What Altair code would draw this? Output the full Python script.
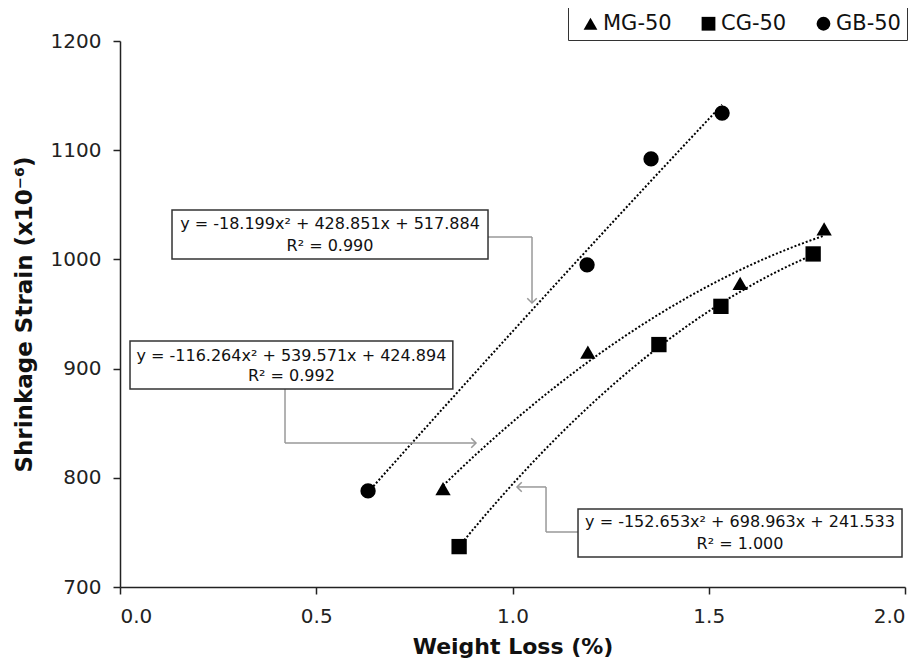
import altair as alt
import pandas as pd

# ---- data ----
mg_x = [0.823, 1.192, 1.580, 1.794]
mg_y = [790, 915, 978, 1028]
cg_x = [0.864, 1.373, 1.531, 1.766]
cg_y = [737, 922, 957, 1005]
gb_x = [0.632, 1.190, 1.353, 1.534]
gb_y = [788, 995, 1092, 1134]
series_names = ["MG-50", "CG-50", "GB-50"]
shapes = ["triangle-up", "square", "circle"]

eq_lines = [
    ["y = -18.199x² + 428.851x + 517.884", "R² = 0.990"],
    ["y = -116.264x² + 539.571x + 424.894", "R² = 0.992"],
    ["y = -152.653x² + 698.963x + 241.533", "R² = 1.000"],
]
# annotation boxes (data units): x1, x2, y_top, y_bottom, text centre x, line ys
box_x1 = [0.1325, 0.0255, 1.1669]
box_x2 = [0.9376, 0.8480, 1.9924]
box_y1 = [1045.2, 925.3, 771.4]
box_y2 = [1000.4, 881.3, 727.5]
text_cx = [0.535, 0.4367, 1.5796]
text_y1 = [1032.4, 911.5, 759.5]
text_y2 = [1012.3, 893.2, 739.4]
# connector segments (data units)
seg_x1 = [0.9376, 1.0497, 0.4204, 0.4204, 1.1669, 1.0854, 1.0854]
seg_x2 = [1.0497, 1.0497, 0.4204, 0.9070, 1.0854, 1.0854, 1.0115]
seg_y1 = [1020.5, 1020.5, 881.3, 831.9, 750.4, 750.4, 791.6]
seg_y2 = [1020.5, 960.1, 831.9, 831.9, 750.4, 791.6, 791.6]
# arrow heads
head_x = [1.0497, 0.9070, 1.0115]
head_y = [960.1, 831.9, 791.6]
head_angle = [90, 0, 180]

FONT = "DejaVu Sans"

rows = []
for name, xs, ys in zip(series_names, [mg_x, cg_x, gb_x], [mg_y, cg_y, gb_y]):
    for xv, yv in zip(xs, ys):
        rows.append({"series": name, "x": xv, "y": yv})
df = pd.DataFrame(rows)

xscale = alt.Scale(domain=[0, 2], nice=False)
yscale = alt.Scale(domain=[700, 1200], nice=False, zero=False)

x_enc = alt.X("x:Q", scale=xscale, title="Weight Loss (%)",
              axis=alt.Axis(values=[0, 0.5, 1.0, 1.5, 2.0], format=".1f"))
y_enc = alt.Y("y:Q", scale=yscale, title="Shrinkage Strain (x10⁻⁶)",
              axis=alt.Axis(values=[700, 800, 900, 1000, 1100, 1200], format="d"))

points = alt.Chart(df).mark_point(filled=True, opacity=1, color="black", size=235).encode(
    x=x_enc, y=y_enc,
    shape=alt.Shape("series:N", scale=alt.Scale(domain=series_names, range=shapes),
                    sort=series_names,
                    legend=alt.Legend(title=None, orient="none", direction="horizontal",
                                      legendX=448, legendY=-34,
                                      strokeColor="#333", fillColor="white",
                                      padding=6, labelFontSize=21, symbolSize=190,
                                      labelFont=FONT, labelColor="#111",
                                      symbolFillColor="black", symbolStrokeColor="black",
                                      columnPadding=20, symbolOffset=6, labelOffset=2)),
)

trend = alt.Chart(df).transform_regression(
    "x", "y", method="poly", order=2, groupby=["series"]
).mark_line(color="black", strokeDash=[2, 2], strokeWidth=2).encode(
    x=alt.X("x:Q", scale=xscale), y=alt.Y("y:Q", scale=yscale), detail="series:N"
)

boxes_df = pd.DataFrame({"x1": box_x1, "x2": box_x2, "y1": box_y1, "y2": box_y2})
boxes = alt.Chart(boxes_df).mark_rect(fill="white", stroke="#333", strokeWidth=1.5).encode(
    x=alt.X("x1:Q", scale=xscale), x2="x2:Q",
    y=alt.Y("y1:Q", scale=yscale), y2="y2:Q",
)

txt_rows = []
for i in range(3):
    txt_rows.append({"x": text_cx[i], "y": text_y1[i], "t": eq_lines[i][0]})
    txt_rows.append({"x": text_cx[i], "y": text_y2[i], "t": eq_lines[i][1]})
texts = alt.Chart(pd.DataFrame(txt_rows)).mark_text(
    font=FONT, fontSize=16, color="#111", align="center", baseline="middle"
).encode(x=alt.X("x:Q", scale=xscale), y=alt.Y("y:Q", scale=yscale), text="t:N")

seg_df = pd.DataFrame({"x1": seg_x1, "x2": seg_x2, "y1": seg_y1, "y2": seg_y2})
segs = alt.Chart(seg_df).mark_rule(color="#999", strokeWidth=1.5).encode(
    x=alt.X("x1:Q", scale=xscale), x2="x2:Q",
    y=alt.Y("y1:Q", scale=yscale), y2="y2:Q",
)

head_df = pd.DataFrame({"x": head_x, "y": head_y, "a": head_angle})
heads = alt.Chart(head_df).mark_point(
    shape="M -1 -1 L 0 0 L -1 1", filled=False, color="#999", strokeWidth=1.5, size=90, opacity=1
).encode(x=alt.X("x:Q", scale=xscale), y=alt.Y("y:Q", scale=yscale),
         angle=alt.Angle("a:Q", scale=None))

chart = alt.layer(trend, segs, heads, boxes, texts, points).properties(
    width=785, height=546,
    autosize=alt.AutoSizeParams(type="none"),
    padding={"left": 112, "top": 33, "right": 9, "bottom": 74},
).configure_view(stroke=None).configure_axis(
    grid=False, domainColor="#222", tickColor="#222", domainWidth=1.5, tickWidth=1.5,
    labelFont=FONT, labelFontSize=20, labelColor="#222",
    titleFont=FONT, titleFontWeight="bold", titleColor="#111",
).configure_axisX(tickSize=7, labelPadding=12, titlePadding=10, titleFontSize=22).configure_axisY(
    tickSize=7, labelPadding=12, titlePadding=14, titleFontSize=23)

chart.save("out.html", embed_options={"renderer": "svg", "actions": False})
